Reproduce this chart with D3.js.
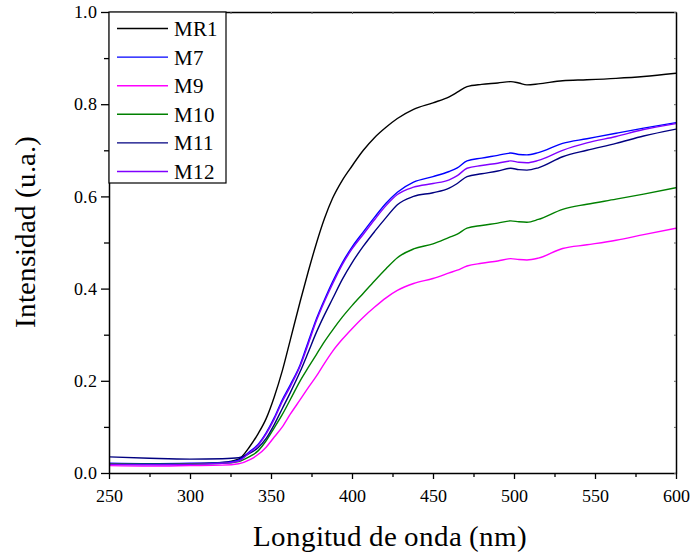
<!DOCTYPE html>
<html>
<head>
<meta charset="utf-8">
<script src="https://cdn.jsdelivr.net/npm/d3@7"></script>
<style>
  @font-face { font-family: "ChartSerif"; src: local("Liberation Serif"), local("LiberationSerif"), local("LiberationSerif-Regular"); }
  body { margin: 0; background: #fff; }
  #figure, #figure text { font-family: "ChartSerif", "Liberation Serif", "Times New Roman", serif; }
</style>
</head>
<body>
<svg id="figure" width="691" height="556"></svg>
<script>
// Wavelength grid (nm)
const wavelengths = [250, 275, 300, 320, 330, 337, 342, 347, 352, 357, 362, 368, 373, 378, 383, 388, 394, 400, 407, 414, 421, 428, 438, 450, 460, 465, 471, 480, 490, 498, 503, 508, 515, 530, 545, 563, 580, 600];

const seriesNames = ["MR1", "M7", "M9", "M10", "M11", "M12"];
const seriesColors = ["#000000", "#0000ff", "#ff00ff", "#008000", "#000080", "#8000ff"];

const MR1 = [0.019, 0.019, 0.020, 0.023, 0.030, 0.058, 0.085, 0.118, 0.165, 0.222, 0.290, 0.372, 0.437, 0.498, 0.552, 0.596, 0.635, 0.666, 0.700, 0.728, 0.750, 0.769, 0.789, 0.803, 0.816, 0.826, 0.838, 0.843, 0.846, 0.849, 0.846, 0.842, 0.844, 0.851, 0.853, 0.856, 0.860, 0.867];
const M7  = [0.021, 0.020, 0.021, 0.023, 0.028, 0.047, 0.062, 0.087, 0.120, 0.159, 0.192, 0.235, 0.285, 0.334, 0.376, 0.415, 0.456, 0.490, 0.523, 0.555, 0.585, 0.609, 0.631, 0.643, 0.654, 0.662, 0.677, 0.683, 0.689, 0.694, 0.691, 0.690, 0.695, 0.715, 0.725, 0.737, 0.748, 0.760];
const M9  = [0.016, 0.015, 0.016, 0.017, 0.020, 0.029, 0.040, 0.056, 0.078, 0.100, 0.128, 0.159, 0.185, 0.210, 0.238, 0.264, 0.290, 0.313, 0.338, 0.360, 0.380, 0.396, 0.411, 0.422, 0.434, 0.440, 0.449, 0.455, 0.460, 0.465, 0.463, 0.462, 0.466, 0.487, 0.495, 0.505, 0.517, 0.531];
const M10 = [0.020, 0.019, 0.020, 0.021, 0.025, 0.036, 0.048, 0.070, 0.098, 0.127, 0.160, 0.200, 0.229, 0.257, 0.285, 0.310, 0.338, 0.363, 0.390, 0.417, 0.443, 0.467, 0.486, 0.497, 0.511, 0.518, 0.531, 0.537, 0.542, 0.547, 0.545, 0.544, 0.550, 0.572, 0.583, 0.594, 0.605, 0.619];
const M11 = [0.035, 0.032, 0.030, 0.031, 0.033, 0.043, 0.055, 0.075, 0.105, 0.140, 0.175, 0.220, 0.262, 0.305, 0.343, 0.378, 0.420, 0.456, 0.492, 0.524, 0.554, 0.582, 0.600, 0.608, 0.618, 0.628, 0.643, 0.649, 0.655, 0.661, 0.658, 0.657, 0.662, 0.686, 0.700, 0.715, 0.731, 0.746];
const M12 = [0.019, 0.018, 0.019, 0.021, 0.026, 0.045, 0.060, 0.085, 0.117, 0.155, 0.188, 0.232, 0.280, 0.330, 0.372, 0.410, 0.452, 0.486, 0.518, 0.550, 0.580, 0.604, 0.620, 0.628, 0.636, 0.645, 0.661, 0.667, 0.672, 0.677, 0.674, 0.673, 0.678, 0.700, 0.716, 0.730, 0.745, 0.758];
const seriesValues = [MR1, M7, M9, M10, M11, M12];

const xTicks = [250, 300, 350, 400, 450, 500, 550, 600];
const xMinorTicks = [275, 325, 375, 425, 475, 525, 575];
const yTicks = [0.0, 0.2, 0.4, 0.6, 0.8, 1.0];
const yMinorTicks = [0.1, 0.3, 0.5, 0.7, 0.9];

const xTitle = "Longitud de onda (nm)";
const yTitle = "Intensidad (u.a.)";

const svg = d3.select("#figure");
const L = 109, R = 676, T = 12, B = 473;

const x = d3.scaleLinear().domain([250, 600]).range([L, R]);
const y = d3.scaleLinear().domain([0, 1]).range([B, T]);

// curves
svg.append("clipPath").attr("id", "plotclip").append("rect")
  .attr("x", L).attr("y", T).attr("width", R - L).attr("height", B - T);

const line = d3.line()
  .x((d, i) => x(wavelengths[i]))
  .y(d => y(d))
  .curve(d3.curveMonotoneX);

const gLines = svg.append("g").attr("clip-path", "url(#plotclip)");
seriesValues.forEach((vals, k) => {
  gLines.append("path")
    .datum(vals)
    .attr("d", line)
    .attr("fill", "none")
    .attr("stroke", seriesColors[k])
    .attr("stroke-width", 1.4)
    .attr("stroke-linejoin", "round");
});

// axes
function styleAxis(g) {
  g.attr("font-family", null).attr("font-size", 18);
  g.selectAll(".domain").attr("stroke", "#000").attr("stroke-width", 1.5);
  g.selectAll(".tick line").attr("stroke", "#000").attr("stroke-width", 1.3);
  g.selectAll("text").attr("fill", "#000").attr("font-size", 18);
}

// bottom
const gx = svg.append("g").attr("transform", `translate(0,${B})`)
  .call(d3.axisBottom(x).tickValues(xTicks).tickFormat(d3.format("d")).tickSize(6).tickSizeOuter(0).tickPadding(10));
styleAxis(gx);
svg.append("g").attr("transform", `translate(0,${B})`)
  .call(d3.axisBottom(x).tickValues(xMinorTicks).tickFormat("").tickSize(4).tickSizeOuter(0))
  .call(g => g.select(".domain").remove())
  .call(styleAxis);

// left
const gy = svg.append("g").attr("transform", `translate(${L},0)`)
  .call(d3.axisLeft(y).tickValues(yTicks).tickFormat(d3.format(".1f")).tickSize(8).tickSizeOuter(0).tickPadding(4));
styleAxis(gy);
svg.append("g").attr("transform", `translate(${L},0)`)
  .call(d3.axisLeft(y).tickValues(yMinorTicks).tickFormat("").tickSize(5).tickSizeOuter(0))
  .call(g => g.select(".domain").remove())
  .call(styleAxis);

// top (small inward ticks)
svg.append("g").attr("transform", `translate(0,${T})`)
  .call(d3.axisTop(x).tickValues(xTicks.concat(xMinorTicks)).tickFormat("").tickSize(-2).tickSizeOuter(0))
  .call(g => g.selectAll(".tick line").attr("stroke", "#666").attr("stroke-width", 1))
  .call(g => g.select(".domain").attr("stroke", "#000").attr("stroke-width", 1.5));

// right (small inward ticks)
svg.append("g").attr("transform", `translate(${R},0)`)
  .call(d3.axisRight(y).tickValues(yTicks.concat(yMinorTicks)).tickFormat("").tickSize(-2).tickSizeOuter(0))
  .call(g => g.selectAll(".tick line").attr("stroke", "#666").attr("stroke-width", 1))
  .call(g => g.select(".domain").attr("stroke", "#000").attr("stroke-width", 1.5));

// axis titles
svg.append("text")
  .attr("x", 390).attr("y", 546)
  .attr("text-anchor", "middle")
  .attr("fill", "#000")
  .attr("font-size", 29)
  .text(xTitle);

svg.append("text")
  .attr("transform", `translate(35,232) rotate(-90)`)
  .attr("text-anchor", "middle")
  .attr("fill", "#000")
  .attr("font-size", 29)
  .text(yTitle);

// legend
const lg = svg.append("g");
lg.append("rect")
  .attr("x", L).attr("y", T).attr("width", 117).attr("height", 171)
  .attr("fill", "#fff").attr("stroke", "#000").attr("stroke-width", 1.2);
seriesNames.forEach((name, k) => {
  const yy = 28.5 + k * 28.6;
  lg.append("line")
    .attr("x1", 117).attr("x2", 168).attr("y1", yy).attr("y2", yy)
    .attr("stroke", seriesColors[k]).attr("stroke-width", 1.4);
  lg.append("text")
    .attr("x", 174).attr("y", yy + 7.5)
    .attr("fill", "#000")
    .attr("font-size", 21)
    .text(name);
});
</script>
</body>
</html>
